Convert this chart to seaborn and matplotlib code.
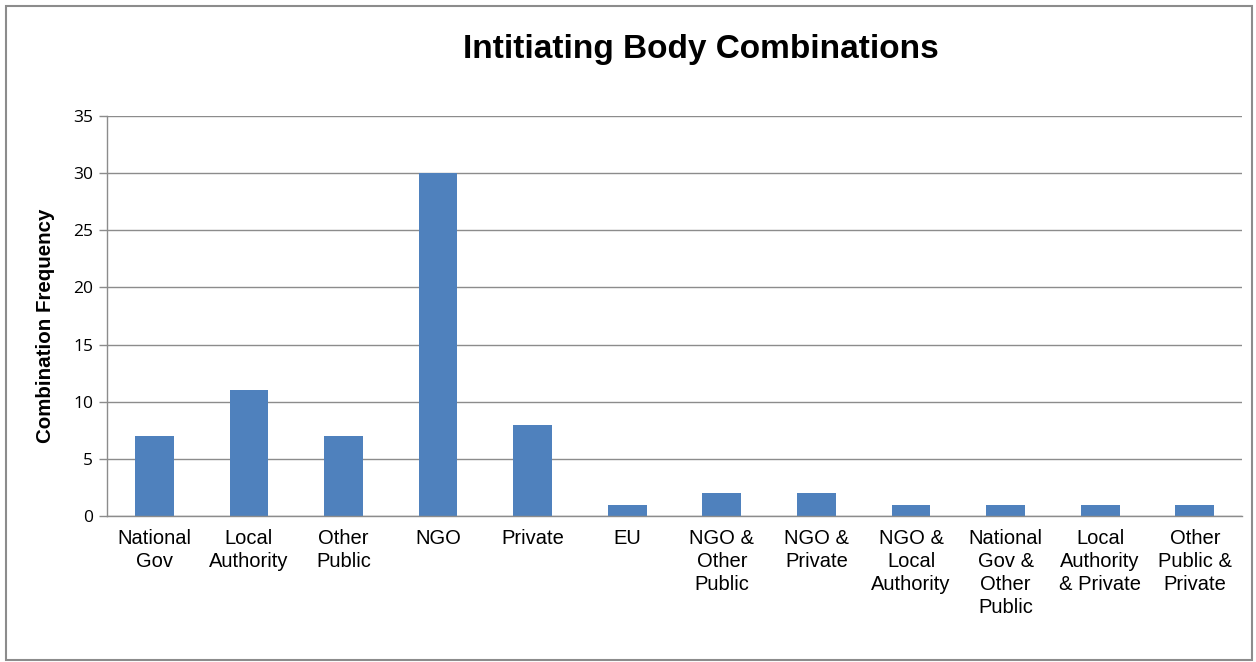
import matplotlib
matplotlib.use("Agg")
import matplotlib.pyplot as plt
import seaborn as sns
import numpy as np
import pandas as pd
from matplotlib.patches import Rectangle

categories = ["National\nGov", "Local\nAuthority", "Other\nPublic", "NGO", "Private", "EU",
              "NGO &\nOther\nPublic", "NGO &\nPrivate", "NGO &\nLocal\nAuthority",
              "National\nGov &\nOther\nPublic", "Local\nAuthority\n& Private", "Other\nPublic &\nPrivate"]
values = [7, 11, 7, 30, 8, 1, 2, 2, 1, 1, 1, 1]
y_ticks = [0, 5, 10, 15, 20, 25, 30, 35]

sns.set_theme(style="white")
plt.rcParams['font.family'] = ['Liberation Sans', 'DejaVu Sans']
plt.rcParams['text.color'] = 'black'
plt.rcParams['axes.labelcolor'] = 'black'
plt.rcParams['xtick.color'] = 'black'
plt.rcParams['ytick.color'] = 'black'

fig = plt.figure(figsize=(12.56, 6.62), dpi=100)
ax = fig.add_axes([0.0852, 0.2205, 0.9037, 0.6043])

df = pd.DataFrame({"cat": categories, "val": values})
sns.barplot(data=df, x="cat", y="val", color="#4F81BD", saturation=1, width=0.41,
            linewidth=0, edgecolor="none", ax=ax)

ax.set_xlim(-0.5, len(categories) - 0.5)
ax.set_ylim(0, 35)
ax.set_yticks(y_ticks)
ax.set_yticklabels([str(t) for t in y_ticks], fontsize=12.5, family=['Open Sans', 'DejaVu Sans'])
ax.yaxis.grid(True, color="#8C8C8C", linewidth=1)
ax.set_axisbelow(True)

ax.set_xticks(range(len(categories)))
ax.set_xticklabels(categories, fontsize=14.5, linespacing=1.27, va="top")
ax.tick_params(axis="x", which="major", length=0, pad=9, labelcolor="black")
ax.set_xticks(np.arange(-0.5, len(categories), 1.0), minor=True)
ax.tick_params(axis="x", which="minor", length=6, width=1, color="#8C8C8C", direction="out")
ax.tick_params(axis="y", length=6, width=1, color="#8C8C8C", direction="out", left=True,
               pad=4, labelcolor="black")

for s in ["top", "right"]:
    ax.spines[s].set_visible(False)
for s in ["left", "bottom"]:
    ax.spines[s].set_color("#8C8C8C")
    ax.spines[s].set_linewidth(1)

ax.set_xlabel("")
ax.set_ylabel("Combination Frequency", fontsize=14.8, fontweight="bold", color="black")
ax.yaxis.set_label_coords(-0.046, 0.475)

fig.text(0.558, 0.925, "Intitiating Body Combinations", ha="center", va="center",
         fontsize=24, fontweight="bold", color="black")

fig.patches.append(Rectangle((0.005, 0.003), 0.992, 0.988, transform=fig.transFigure,
                             fill=False, edgecolor="#8C8C8C", linewidth=1.5))

fig.savefig("out.png", dpi=100)
